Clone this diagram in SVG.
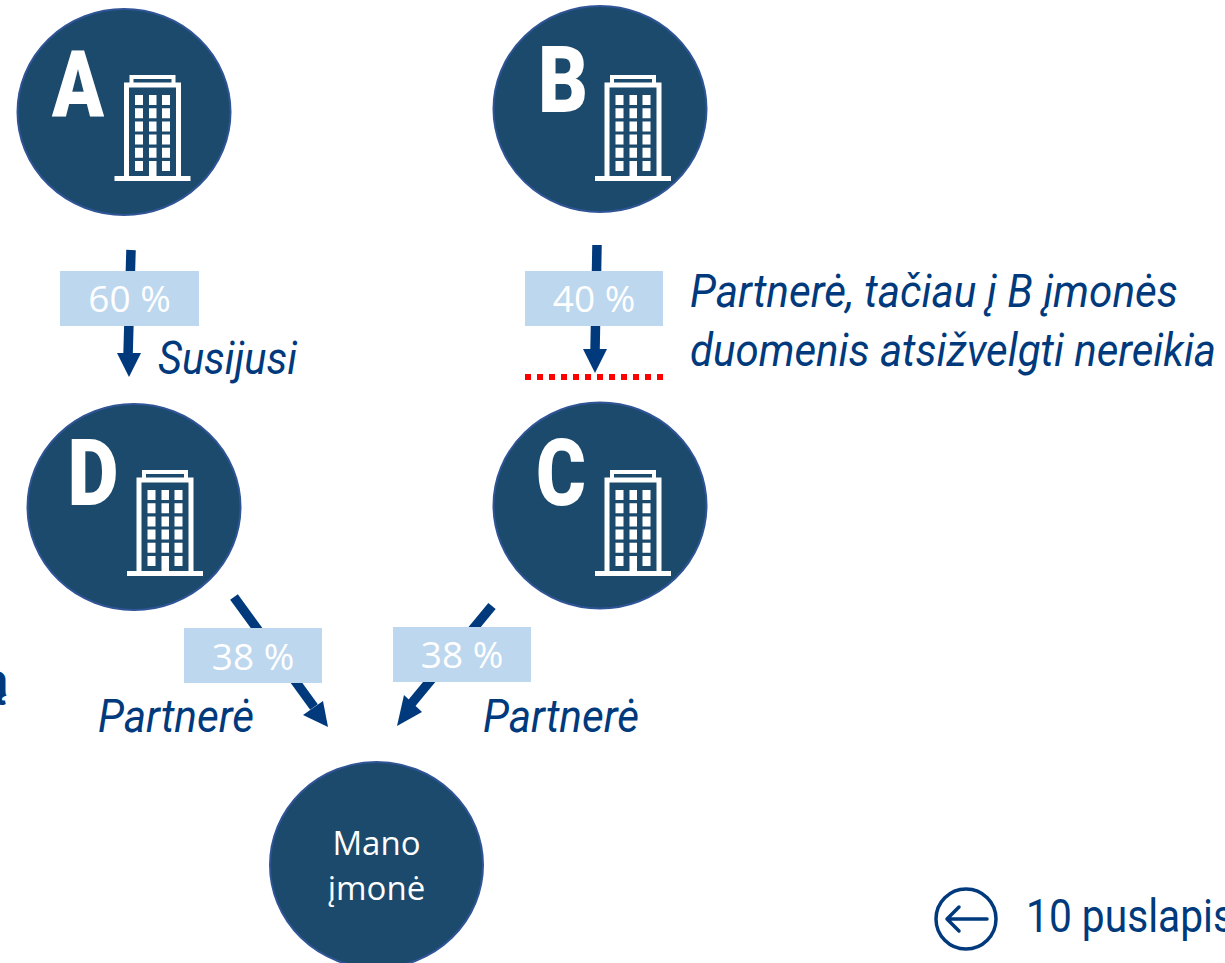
<svg xmlns="http://www.w3.org/2000/svg" width="1225" height="963" viewBox="0 0 1225 963">
<style>
.c{fill:#1c4a6c;stroke:#2f5597;stroke-width:2}
.l{font-family:"Roboto","Liberation Sans",sans-serif;font-weight:900;fill:#fff;font-size:93px}
.i{font-family:"Roboto","Liberation Sans",sans-serif;font-style:italic;fill:#003a7d;font-size:46px}
.p{font-family:"Open Sans","Noto Sans",sans-serif;fill:#fff;font-size:37px;text-anchor:middle}
.m{font-family:"Open Sans","Noto Sans",sans-serif;fill:#fff;font-size:33px;text-anchor:middle}
.b{fill:#bdd7ee}
.a{stroke:#003a7d;stroke-width:9.500;fill:none}
.h{fill:#003a7d}
.w{fill:none;stroke:#fff;stroke-width:5}
.t{fill:none;stroke:#fff;stroke-width:4}
.f{fill:#fff}
</style>
<defs>
<g id="bld">
<path class="w" d="M-26 62V-30H26V62"/>
<path class="t" d="M-21-31V-38H21V-31"/>
<rect class="f" x="-38" y="61" width="76" height="5"/>
<path class="f" d="M-17.500-20h8v10h-8zM-3.500-20h7.500v10h-7.500zM9.500-20h8v10h-8zM-17.500-6.800h8v10h-8zM-3.500-6.800h7.500v10h-7.500zM9.500-6.800h8v10h-8zM-17.500 6.400h8v10h-8zM-3.500 6.400h7.500v10h-7.500zM9.500 6.400h8v10h-8zM-17.500 19.600h8v10h-8zM-3.500 19.600h7.500v10h-7.500zM9.500 19.600h8v10h-8zM-17.500 32.800h8v10h-8zM-3.500 32.800h7.500v10h-7.500zM9.500 32.800h8v10h-8zM-17.500 46h8v10h-8zM-3.500 46h7.500v16h-7.500zM9.500 46h8v10h-8z"/>
</g>
</defs>
<g id="connectors">
<path class="a" d="M131 250L128 356"/><path class="h" d="M117 353h24l-12 24z"/>
<path class="a" d="M597 245L595 352"/><path class="h" d="M583 349h24l-12 24z"/>
<path class="a" d="M234 597L314 707"/><path class="h" d="M303 715L328 727L323 701z"/>
<path class="a" d="M492 606L411 704"/><path class="h" d="M397 726L422 712L404 695z"/>
<path d="M525 377H663" stroke="#f00" stroke-width="6" stroke-dasharray="6 6" fill="none"/>
</g>
<g id="node-a"><ellipse class="c" cx="124" cy="112" rx="106.500" ry="103"/><text class="l" x="52" y="116" textLength="52" lengthAdjust="spacingAndGlyphs">A</text><use href="#bld" x="152.500" y="115"/></g>
<g id="node-b"><ellipse class="c" cx="600" cy="109" rx="106.500" ry="103"/><text class="l" x="538" y="112" textLength="50" lengthAdjust="spacingAndGlyphs">B</text><use href="#bld" x="633" y="115"/></g>
<g id="node-d"><ellipse class="c" cx="134" cy="507" rx="106.500" ry="103"/><text class="l" x="67.500" y="505" textLength="51" lengthAdjust="spacingAndGlyphs">D</text><use href="#bld" x="165" y="510"/></g>
<g id="node-c"><ellipse class="c" cx="600" cy="505.500" rx="106.500" ry="103"/><text class="l" x="536" y="505" textLength="50" lengthAdjust="spacingAndGlyphs">C</text><use href="#bld" x="633" y="510"/></g>
<g id="node-mano"><ellipse class="c" cx="376.500" cy="865" rx="106.500" ry="103"/><text class="m" x="376.500" y="855">Mano</text><text class="m" x="376.500" y="900">įmonė</text></g>
<g id="labels">
<rect class="b" x="60" y="271" width="139" height="55"/><text class="p" x="129.500" y="312">60 %</text>
<rect class="b" x="525" y="271" width="138" height="55"/><text class="p" x="594" y="312">40 %</text>
<rect class="b" x="184" y="628" width="138" height="55"/><text class="p" x="253" y="670">38 %</text>
<rect class="b" x="393" y="627" width="138" height="55"/><text class="p" x="462" y="668">38 %</text>
<text class="i" x="158" y="374" textLength="139" lengthAdjust="spacingAndGlyphs">Susijusi</text>
<text class="i" x="690" y="307" textLength="488" lengthAdjust="spacingAndGlyphs">Partnerė, tačiau į B įmonės</text>
<text class="i" x="690" y="366" textLength="526" lengthAdjust="spacingAndGlyphs">duomenis atsižvelgti nereikia</text>
<text class="i" x="98" y="732" textLength="156" lengthAdjust="spacingAndGlyphs">Partnerė</text>
<text class="i" x="483" y="732" textLength="156" lengthAdjust="spacingAndGlyphs">Partnerė</text>
<text x="-17" y="696" font-family="Roboto,sans-serif" font-weight="900" font-size="46" fill="#003a7d">ą</text>
</g>
<g id="back">
<circle cx="966" cy="919" r="30" fill="none" stroke="#003a7d" stroke-width="3.500"/>
<path d="M987 919H948M959 907L947 919L959 931" fill="none" stroke="#003a7d" stroke-width="3.500" stroke-linecap="round" stroke-linejoin="round"/>
<text x="1026" y="932" font-family="Roboto,sans-serif" font-size="46" fill="#003a7d" textLength="208" lengthAdjust="spacingAndGlyphs">10 puslapis</text>
</g>
</svg>
